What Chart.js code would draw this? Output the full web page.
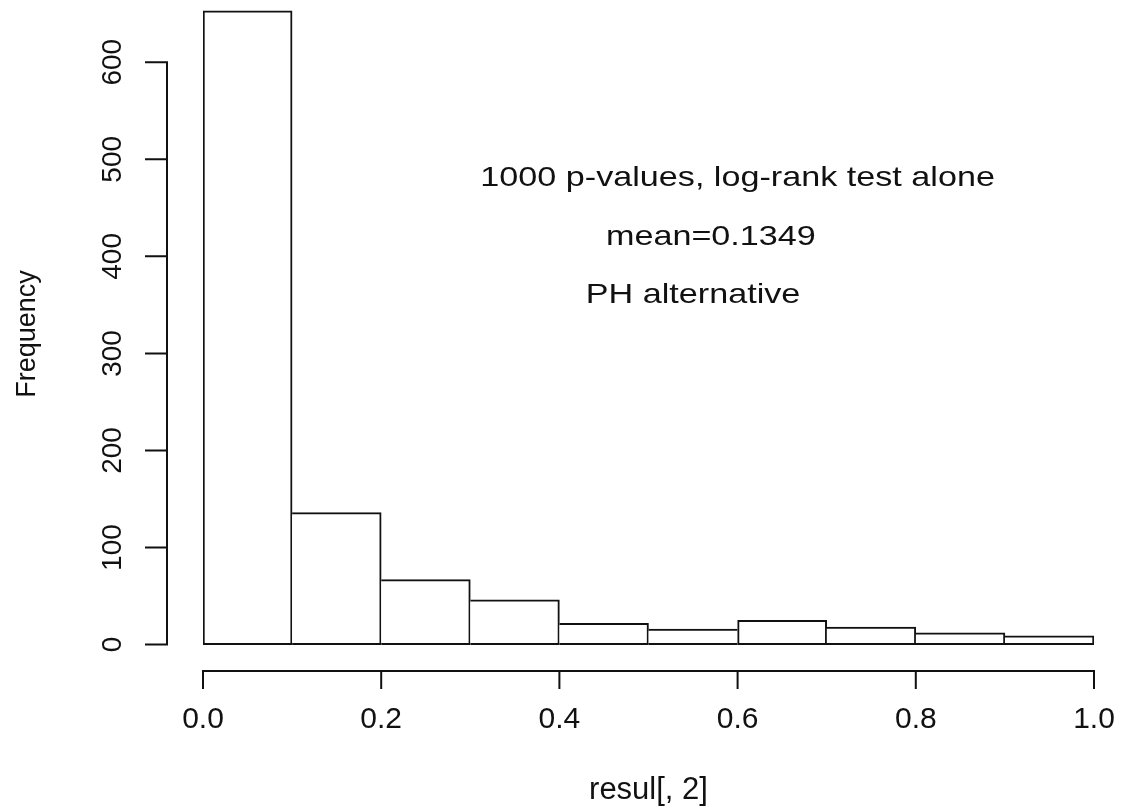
<!DOCTYPE html>
<html>
<head>
<meta charset="utf-8">
<title>Histogram of resul[, 2]</title>
<script src="https://cdn.jsdelivr.net/npm/chart.js@4/dist/chart.umd.min.js"></script>
<style>
  html, body { margin: 0; padding: 0; background: #fff; }
  canvas { display: block; }
</style>
</head>
<body>
<canvas id="histChart" width="1122" height="812"></canvas>
<script>
// histogram bins (break points) and counts
const breaks = [0, 0.1, 0.2, 0.3, 0.4, 0.5, 0.6, 0.7, 0.8, 0.9, 1.0];
const counts = [653, 136, 67, 46, 22, 16, 25, 18, 12, 9];

const xTicks = [0, 0.2, 0.4, 0.6, 0.8, 1.0];
const yTicks = [0, 100, 200, 300, 400, 500, 600];

// text() annotations, in data units
const notes = ['1000 p-values, log-rank test alone', 'mean=0.1349', 'PH alternative'];
const noteX = [0.6, 0.57, 0.55];
const noteY = [480, 420, 360];

const ink = '#111';
const fontFamily = '"Liberation Sans", Arial, sans-serif';

const bars = counts.map((c, i) => ({ x: (breaks[i] + breaks[i + 1]) / 2, y: c }));

// R style axes: detached lines with outward ticks, plus the text() notes
const rAxes = {
    id: 'rAxes',
    afterDraw(chart) {
        const { ctx, chartArea, scales: { x, y } } = chart;
        ctx.save();
        ctx.strokeStyle = ink;
        ctx.lineWidth = 2;
        ctx.lineCap = 'square';

        const ax = chartArea.left - 36;
        ctx.beginPath();
        ctx.moveTo(ax, y.getPixelForValue(yTicks[0]));
        ctx.lineTo(ax, y.getPixelForValue(yTicks[yTicks.length - 1]));
        yTicks.forEach(v => {
            const py = y.getPixelForValue(v);
            ctx.moveTo(ax, py);
            ctx.lineTo(ax - 21, py);
        });

        const ay = chartArea.bottom + 7;
        ctx.moveTo(x.getPixelForValue(xTicks[0]), ay);
        ctx.lineTo(x.getPixelForValue(xTicks[xTicks.length - 1]), ay);
        xTicks.forEach(v => {
            const px = x.getPixelForValue(v);
            ctx.moveTo(px, ay);
            ctx.lineTo(px, ay + 17);
        });
        ctx.stroke();

        ctx.fillStyle = ink;
        ctx.font = '28px ' + fontFamily;
        ctx.textAlign = 'center';
        ctx.textBaseline = 'middle';
        notes.forEach((t, i) => {
            ctx.save();
            ctx.translate(x.getPixelForValue(noteX[i]), y.getPixelForValue(noteY[i]));
            ctx.scale(1.22, 1);
            ctx.fillText(t, 0, 0);
            ctx.restore();
        });
        ctx.restore();
    }
};

const ctx = document.getElementById('histChart').getContext('2d');
new Chart(ctx, {
    type: 'bar',
    data: {
        datasets: [{
            data: bars,
            backgroundColor: '#fff',
            borderColor: ink,
            // each shared edge is drawn once, by the taller of the two bars
            borderWidth: c => {
                const i = c.dataIndex;
                const last = counts.length - 1;
                return {
                    top: 2, bottom: 2,
                    left: i === 0 || counts[i - 1] < counts[i] ? 2 : 0,
                    right: i === last || counts[i + 1] <= counts[i] ? 2 : 0
                };
            },
            borderSkipped: false,
            barPercentage: 1,
            categoryPercentage: 1
        }]
    },
    options: {
        responsive: false,
        animation: false,
        devicePixelRatio: 1,
        layout: { padding: { left: 0, top: 4, right: 28, bottom: 0 } },
        plugins: {
            legend: { display: false },
            tooltip: { enabled: false }
        },
        scales: {
            x: {
                type: 'linear',
                min: 0,
                max: 1,
                offset: false,
                grid: { display: false, drawTicks: false },
                border: { display: false },
                afterBuildTicks: s => { s.ticks = xTicks.map(v => ({ value: v })); },
                afterFit: s => { s.height = 148; s.paddingLeft = 0; s.paddingRight = 0; },
                ticks: {
                    color: ink,
                    padding: 38,
                    maxRotation: 0,
                    autoSkip: false,
                    font: { family: fontFamily, size: 30 },
                    callback: v => v.toFixed(1)
                },
                title: {
                    display: true,
                    text: 'resul[, 2]',
                    color: ink,
                    padding: { top: 0, bottom: 3 },
                    font: { family: fontFamily, size: 31 }
                }
            },
            y: {
                min: -20,
                max: 660,
                grid: { display: false, drawTicks: false },
                border: { display: false },
                afterBuildTicks: s => { s.ticks = yTicks.map(v => ({ value: v })); },
                afterFit: s => { s.width = 203; s.paddingTop = 0; s.paddingBottom = 0; },
                ticks: {
                    color: ink,
                    padding: 66,
                    minRotation: 90,
                    maxRotation: 90,
                    crossAlign: 'center',
                    autoSkip: false,
                    font: { family: fontFamily, size: 28 }
                },
                title: {
                    display: true,
                    text: 'Frequency',
                    color: ink,
                    padding: { top: 11, bottom: 0 },
                    font: { family: fontFamily, size: 27 }
                }
            }
        }
    },
    plugins: [rAxes]
});
</script>
</body>
</html>
